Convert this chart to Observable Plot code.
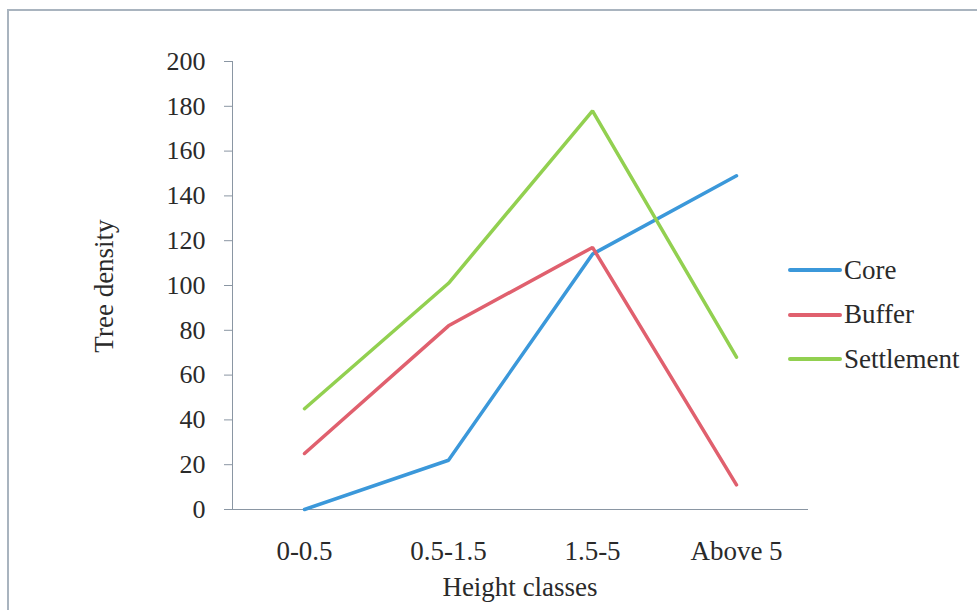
<!DOCTYPE html>
<html>
<head>
<meta charset="utf-8">
<script src="https://cdn.jsdelivr.net/npm/d3@7"></script>
<script src="https://cdn.jsdelivr.net/npm/@observablehq/plot@0.6"></script>
<style>
  html, body { margin: 0; padding: 0; background: #fff; }
  #wrap { position: relative; width: 977px; height: 610px; overflow: hidden; }
  #border { position: absolute; left: 7px; top: 9px; width: 1000px; height: 700px;
            border-left: 2px solid #a9b4bf; border-top: 2px solid #a9b4bf; }
  #chart { position: absolute; left: 0; top: 0; }
  .txt { position: absolute; font-family: "Liberation Serif", serif; color: #2a2a2a; font-size: 27px;
         white-space: nowrap; line-height: 1; }
  #ytitle { left: 104px; top: 286px; transform: translate(-50%, -50%) rotate(-90deg); }
  #xtitle { left: 520px; top: 587px; transform: translate(-50%, -50%); }
  #legend { position: absolute; left: 788px; top: 248px; font-family: "Liberation Serif", serif;
            font-size: 27px; color: #2a2a2a; }
  .item { display: flex; align-items: center; height: 44.5px; }
  .sw { width: 54px; height: 4px; border-radius: 2px; margin-right: 2px; }
  .xax text { font-size: 27px; }
</style>
</head>
<body>
<div id="wrap">
  <div id="border"></div>
  <div id="chart"></div>
  <div class="txt" id="ytitle"></div>
  <div class="txt" id="xtitle"></div>
  <div id="legend"></div>
</div>
<script>
const categories = ["0-0.5", "0.5-1.5", "1.5-5", "Above 5"];
const seriesNames = ["Core", "Buffer", "Settlement"];
const core = [0, 22, 114, 149];
const buffer = [25, 82, 117, 11];
const settlement = [45, 101, 178, 68];
const colors = ["#3b98da", "#e0606e", "#92d050"];
const yTicks = [0, 20, 40, 60, 80, 100, 120, 140, 160, 180, 200];
const xTitle = "Height classes";
const yTitle = "Tree density";

const values = [core, buffer, settlement];
const data = [];
seriesNames.forEach((s, i) => categories.forEach((c, j) => data.push({series: s, cat: c, value: values[i][j]})));

const chart = Plot.plot({
  width: 977,
  height: 610,
  marginLeft: 232,
  marginRight: 169,
  marginTop: 61,
  marginBottom: 101,
  style: {fontFamily: "Liberation Serif, serif", fontSize: "26px", color: "#2a2a2a", background: "transparent"},
  x: {type: "point", domain: categories, padding: 0.5},
  y: {domain: [0, 200]},
  color: {domain: seriesNames, range: colors},
  marks: [
    Plot.axisY({ticks: yTicks, tickSize: 8, tickPadding: 19, stroke: "#8a96a3", label: null}),
    Plot.axisX({tickSize: 0, tickPadding: 31, label: null, className: "xax"}),
    Plot.ruleY([0], {stroke: "#8a96a3", strokeWidth: 1.2}),
    Plot.frame({anchor: "left", stroke: "#8a96a3"}),
    Plot.line(data, {x: "cat", y: "value", z: "series", stroke: "series", strokeWidth: 3.5,
      strokeLinecap: "round", strokeLinejoin: "miter"})
  ]
});
document.getElementById("chart").appendChild(chart);
document.getElementById("xtitle").textContent = xTitle;
document.getElementById("ytitle").textContent = yTitle;

const legend = document.getElementById("legend");
seriesNames.forEach((s, i) => {
  const d = document.createElement("div");
  d.className = "item";
  d.innerHTML = `<div class="sw" style="background:${colors[i]}"></div><span>${s}</span>`;
  legend.appendChild(d);
});
</script>
</body>
</html>
